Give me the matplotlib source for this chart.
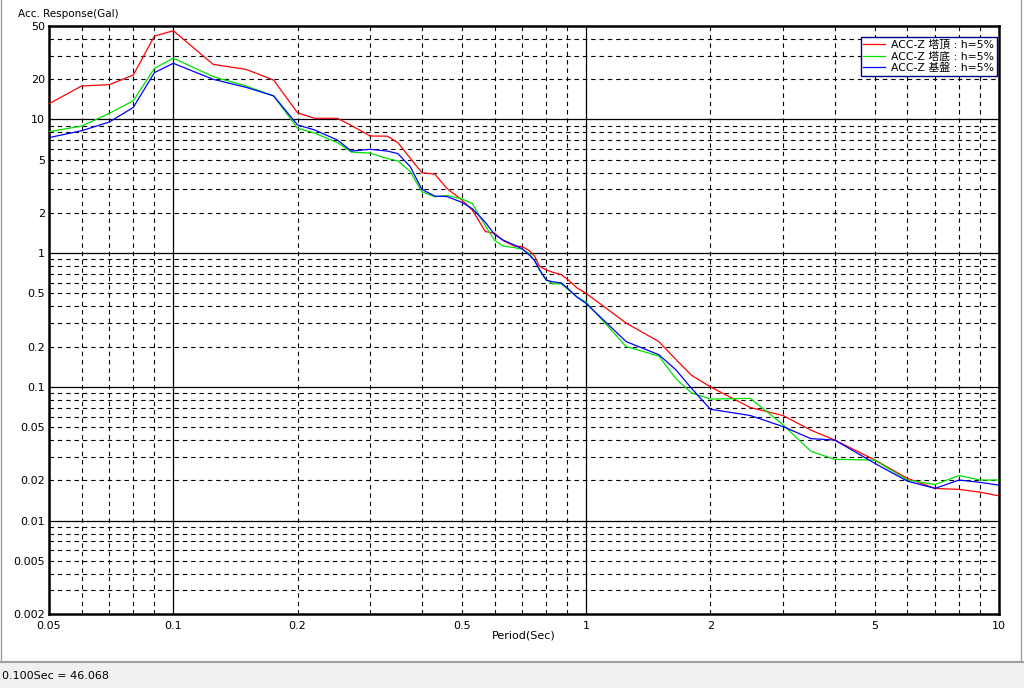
import numpy as np
import matplotlib
matplotlib.use("Agg")
import matplotlib.pyplot as plt
from matplotlib.patches import Rectangle
from matplotlib.lines import Line2D

plt.rcParams['font.family'] = ['DejaVu Sans', 'Noto Sans CJK JP']

# periods (sec)
period = [0.05, 0.06, 0.07, 0.08, 0.09, 0.1, 0.125, 0.15, 0.175, 0.2,
          0.22, 0.25, 0.27, 0.3, 0.33, 0.35, 0.375, 0.4, 0.43, 0.46,
          0.5, 0.53, 0.57, 0.6, 0.63, 0.67, 0.7, 0.73, 0.75, 0.77,
          0.8, 0.83, 0.87, 0.9, 0.95, 1.0, 1.25, 1.5, 1.65, 1.8,
          2.0, 2.5, 3.0, 3.5, 4.0, 5.0, 6.0, 7.0, 8.0, 9.0, 10.0]

# ACC-Z top of tower
acc_top = [13.1, 17.8, 18.2, 21.5, 42.0, 46.068, 25.8, 23.7, 19.7, 11.2,
           10.2, 10.2, 9.0, 7.52, 7.5, 6.7, 5.12, 4.0, 3.9, 3.05,
           2.5, 2.1, 1.45, 1.41, 1.24, 1.13, 1.12, 1.04, 0.95, 0.80,
           0.75, 0.72, 0.69, 0.64, 0.55, 0.50, 0.30, 0.218, 0.16, 0.122,
           0.100, 0.070, 0.061, 0.0475, 0.040, 0.0284, 0.0207, 0.0174, 0.0171, 0.0163, 0.0153]

# ACC-Z bottom of tower
acc_bottom = [8.1, 8.93, 11.1, 13.8, 24.1, 28.7, 20.9, 17.8, 15.0, 8.6,
              7.9, 6.7, 5.7, 5.6, 5.1, 4.9, 4.07, 2.88, 2.64, 2.70,
              2.55, 2.35, 1.6, 1.25, 1.13, 1.10, 1.07, 0.99, 0.88, 0.75,
              0.63, 0.59, 0.59, 0.54, 0.47, 0.43, 0.20, 0.17, 0.115, 0.09,
              0.081, 0.082, 0.052, 0.033, 0.0287, 0.0283, 0.0201, 0.0186, 0.0217, 0.0201, 0.0201]

# ACC-Z base
acc_base = [7.31, 8.24, 9.57, 12.3, 22.4, 26.3, 19.95, 17.4, 15.0, 9.1,
            8.34, 7.0, 5.8, 5.98, 5.8, 5.55, 4.43, 3.0, 2.67, 2.65,
            2.4, 2.15, 1.7, 1.38, 1.25, 1.15, 1.08, 0.96, 0.88, 0.76,
            0.63, 0.61, 0.60, 0.55, 0.47, 0.42, 0.218, 0.174, 0.134, 0.0975,
            0.068, 0.061, 0.0504, 0.041, 0.040, 0.0268, 0.0197, 0.0174, 0.0201, 0.0193, 0.0184]

labels = ['ACC-Z 塔頂 : h=5%', 'ACC-Z 塔底 : h=5%', 'ACC-Z 基盤 : h=5%']
colors = ['#ff0000', '#00e000', '#0000ff']

x_ticks = [0.05, 0.1, 0.2, 0.5, 1, 2, 5, 10]
y_ticks = [0.002, 0.005, 0.01, 0.02, 0.05, 0.1, 0.2, 0.5, 1, 2, 5, 10, 20, 50]

fig = plt.figure(figsize=(10.24, 6.88), dpi=100)
fig.patch.set_facecolor('white')

# window frame and status bar
fig.add_artist(Rectangle((0, 0), 1, 26 / 688, transform=fig.transFigure,
                         facecolor='#f0f0f0', edgecolor='none'))
fig.add_artist(Line2D([0, 1], [26 / 688, 26 / 688], transform=fig.transFigure,
                      color='#a0a0a0', lw=1.5))
fig.add_artist(Line2D([0.6 / 1024, 0.6 / 1024], [26 / 688, 1], transform=fig.transFigure,
                      color='#a0a0a0', lw=1))
fig.add_artist(Line2D([1021 / 1024, 1021 / 1024], [26 / 688, 1], transform=fig.transFigure,
                      color='#a0a0a0', lw=1))
fig.text(2 / 1024, 12 / 688, '0.100Sec = 46.068', fontsize=8, va='center', ha='left')

ax = fig.add_axes([49 / 1024, 74 / 688, 950 / 1024, 588 / 688])
ax.set_xscale('log')
ax.set_yscale('log')
ax.set_xlim(0.05, 10)
ax.set_ylim(0.002, 50)

# grid: solid at decades, dashed at 2..9
for d in [0.01, 0.1, 1]:
    for m in range(1, 10):
        v = d * m
        if 0.05 < v < 10:
            if m == 1:
                ax.axvline(v, color='black', lw=0.9, zorder=1)
            else:
                ax.axvline(v, color='black', lw=0.8, ls=(0, (4, 3.5)), zorder=1)
for d in [0.001, 0.01, 0.1, 1, 10]:
    for m in range(1, 10):
        v = d * m
        if 0.002 < v < 50:
            if m == 1:
                ax.axhline(v, color='black', lw=0.9, zorder=1)
            else:
                ax.axhline(v, color='black', lw=0.8, ls=(0, (4, 3.5)), zorder=1)

for ys, c, lab in zip([acc_top, acc_bottom, acc_base], colors, labels):
    ax.plot(period, ys, color=c, lw=0.9, label=lab, zorder=3)

ax.minorticks_off()
ax.set_xticks(x_ticks)
ax.set_xticklabels([f'{v:g}' for v in x_ticks])
ax.set_yticks(y_ticks)
ax.set_yticklabels([f'{v:g}' for v in y_ticks])
ax.tick_params(length=0, labelsize=8, pad=3)
ax.tick_params(axis='x', pad=5)
for s in ax.spines.values():
    s.set_linewidth(1.8)
    s.set_color('black')

ax.set_xlabel('Period(Sec)', fontsize=8, labelpad=0)
fig.text(18 / 1024, 1 - 14 / 688, 'Acc. Response(Gal)', fontsize=7.5, va='center', ha='left')

leg = ax.legend(loc='upper right', bbox_to_anchor=(0.998, 0.981),
                frameon=True, fancybox=False, borderpad=0.25, labelspacing=0.1,
                handlelength=2.0, handletextpad=0.6, borderaxespad=0,
                prop={'family': ['DejaVu Sans', 'Noto Sans CJK JP'], 'size': 7.8})
leg.get_frame().set_edgecolor('#000080')
leg.get_frame().set_linewidth(1)
leg.get_frame().set_alpha(1)

fig.savefig('out.png', dpi=100)
